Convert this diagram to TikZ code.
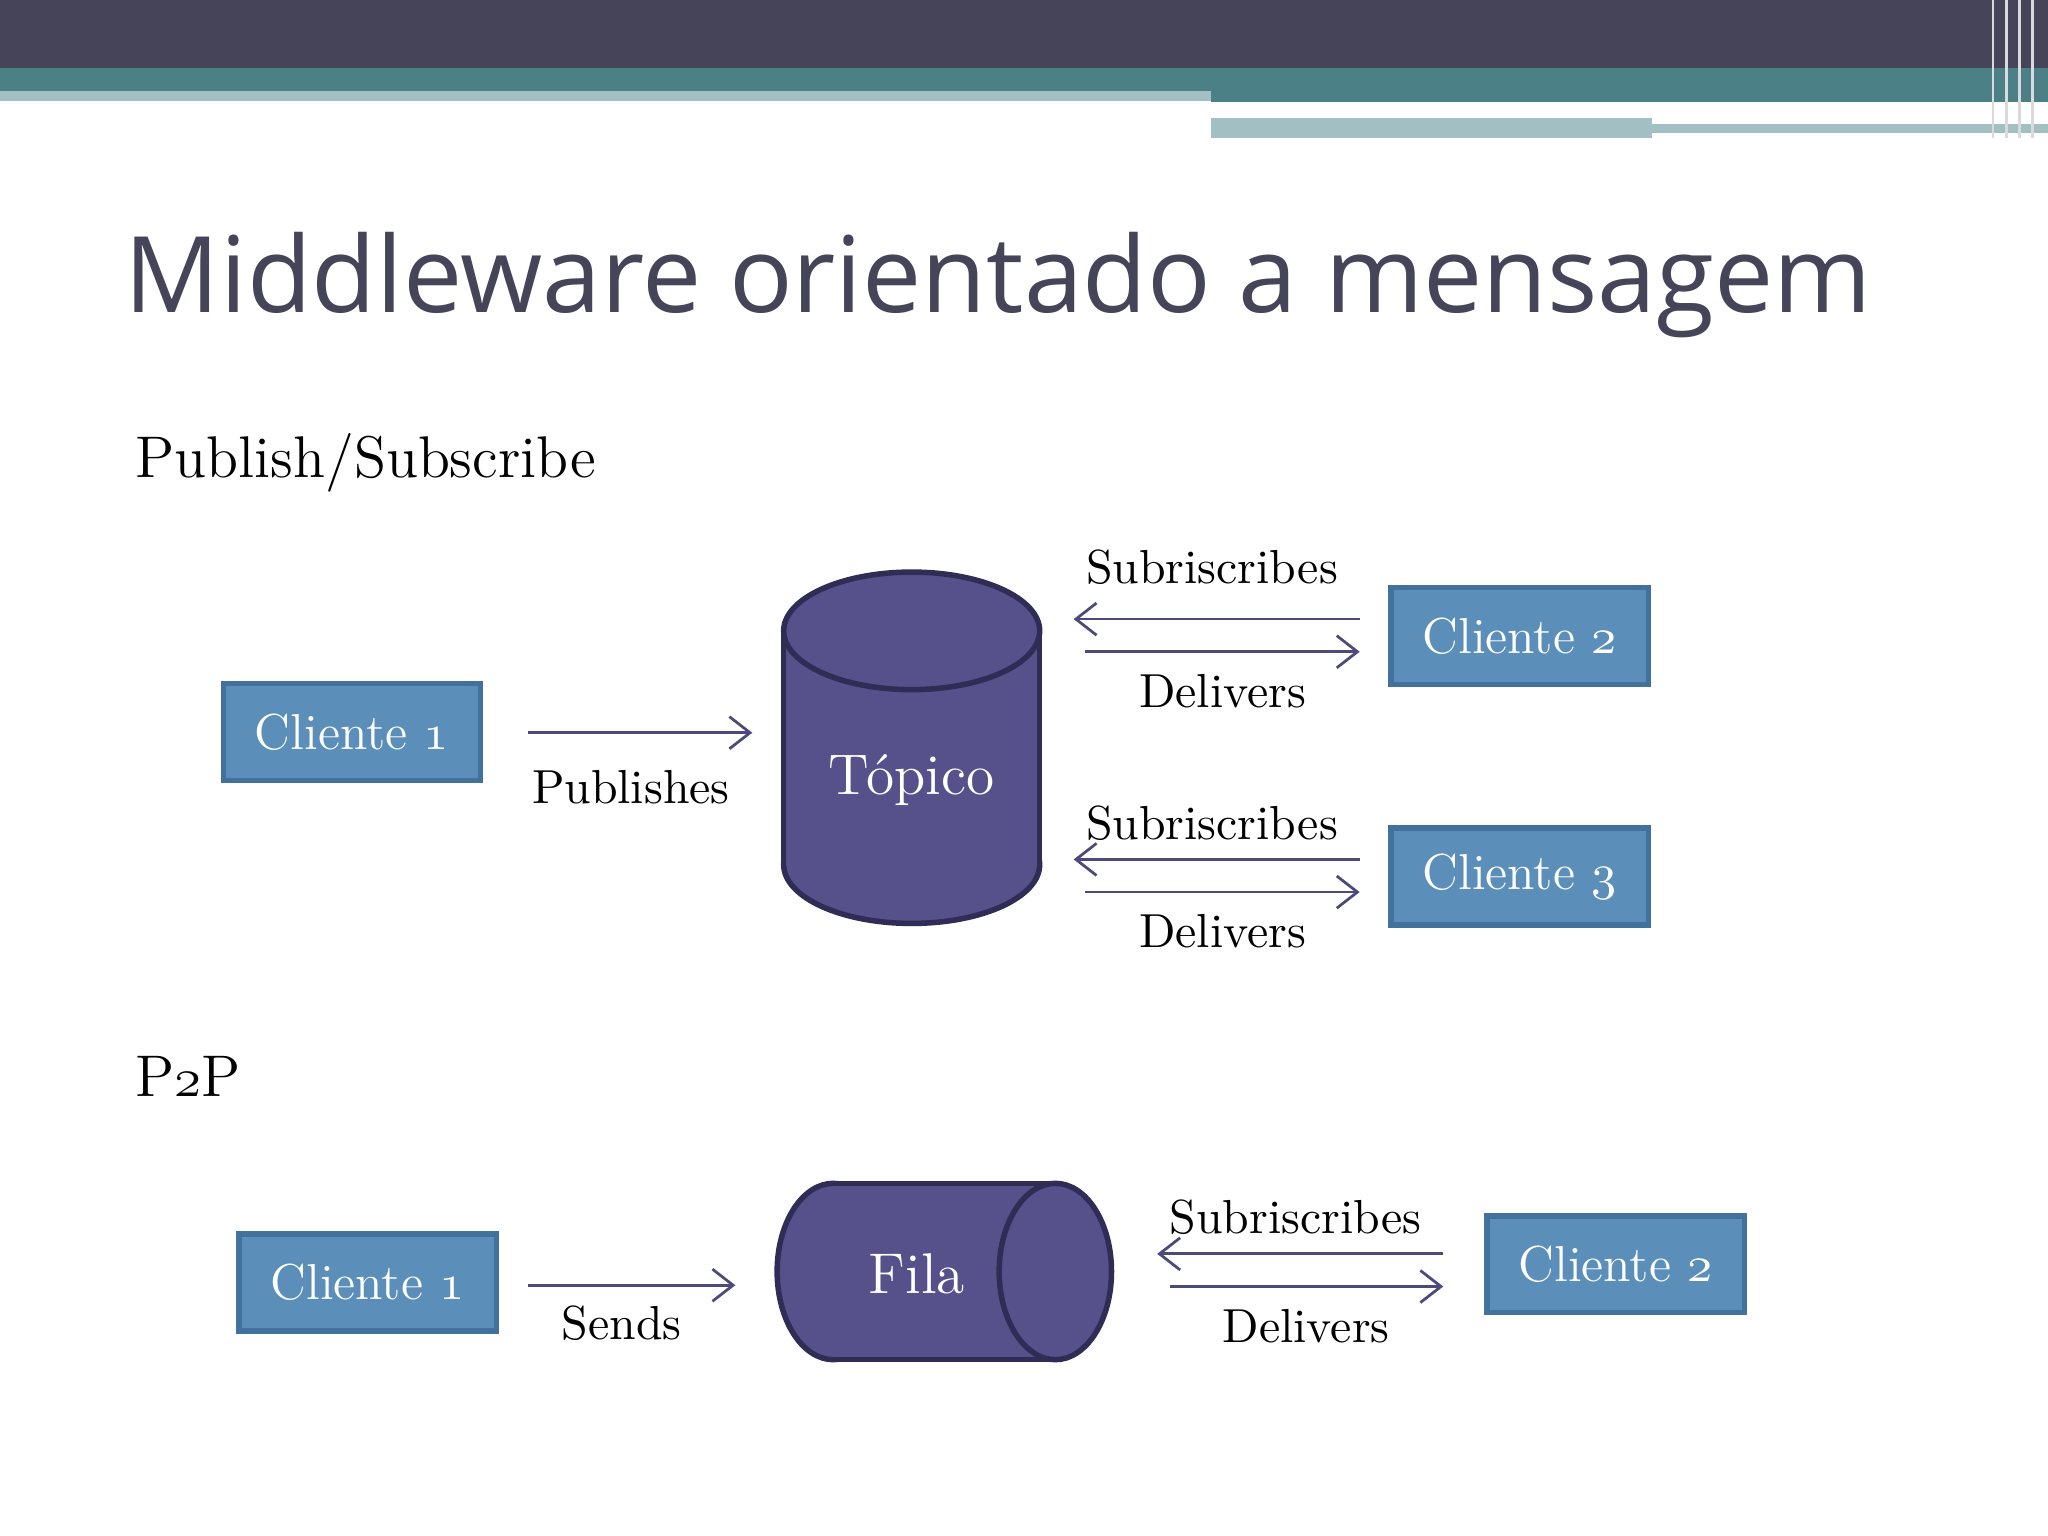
\documentclass[tikz,border=0pt]{standalone}
\usepackage{fontspec}
\newfontfamily\titlefont{Open Sans}
\usetikzlibrary{arrows.meta,shapes.geometric}
\newcommand{\osn}[1]{{\fontencoding{OML}\fontfamily{cmm}\fontseries{m}\fontshape{it}\selectfont #1}}
\definecolor{dark}{HTML}{454458}
\definecolor{teal}{HTML}{4A8086}
\definecolor{lteal}{HTML}{A2C0C4}
\definecolor{boxf}{HTML}{5B8FB9}
\definecolor{boxd}{HTML}{41719C}
\definecolor{cylf}{HTML}{56518A}
\definecolor{cyld}{HTML}{2F2D55}
\definecolor{arr}{HTML}{4B4A7A}
\tikzset{x=0.01cm,y=-0.01cm,
 cbox/.style={draw=boxd,line width=1.2pt,fill=boxf,text=white,minimum width=1.97cm,minimum height=0.74cm,font=\fontsize{11}{14}\selectfont},
 lbl/.style={font=\fontsize{10.4}{13}\selectfont},
 cyl/.style={fill=cylf,draw=cyld,line width=1.2pt},
 conn/.style={draw=arr,line width=0.6pt,-{Straight Barb[length=4.5pt,width=7pt]}}}
\begin{document}
\begin{tikzpicture}
\useasboundingbox (0,0) rectangle (1568,1176);
\fill[white] (0,0) rectangle (1568,1176);
\fill[dark] (0,0) rectangle (1568,52);
\fill[teal] (0,52) rectangle (1568,70);
\fill[lteal] (0,70) rectangle (927,77);
\fill[teal] (927,70) rectangle (1568,78);
\fill[lteal] (927,90) rectangle (1265,106);
\fill[lteal] (1265,95) rectangle (1568,102);
\fill[white] (927,86) rectangle (1452,89);
\foreach \x in {1525,1535,1545,1555} \fill[white!80!dark] (\x,0) rectangle (\x+2,106);
\node[anchor=west,text=dark,font=\titlefont\fontsize{23}{28}\selectfont,inner sep=0pt] (title) at (95,218) {Middleware orientado a mensagem};
\node[anchor=west,font=\fontsize{12.8}{15}\selectfont,inner sep=0pt] (h1) at (103,354) {Publish/Subscribe};
\node[anchor=west,font=\fontsize{12.8}{15}\selectfont,inner sep=0pt] (h2) at (103,824) {P\osn{2}P};
% pub/sub
\node[cbox] (c1) at (269.5,560.5) {Cliente \osn{1}};
\node[cbox] (c2) at (1163.5,487) {Cliente \osn{2}};
\node[cbox] (c3) at (1163.5,671) {Cliente \osn{3}};
\draw[cyl] (698,662) ellipse[x radius=98,y radius=45];
\fill[cylf] (600,483) rectangle (796,662);
\draw[draw=cyld,line width=1.2pt] (600,483) -- (600,662) (796,483) -- (796,662);
\draw[cyl] (698,483) ellipse[x radius=98,y radius=45];
\node[text=white,font=\fontsize{12.5}{15}\selectfont] (top) at (698,597) {Tópico};
\coordinate (p1) at (404,561); \coordinate (p2) at (576,561);
\draw[conn] (p1) -- (p2);
\node[lbl] (pl) at (483,603) {Publishes};
\coordinate (a1) at (1041,474); \coordinate (a2) at (822,474);
\coordinate (b1) at (831,499); \coordinate (b2) at (1041,499);
\draw[conn] (a1) -- (a2); \draw[conn] (b1) -- (b2);
\node[lbl] (s1) at (928,434) {Subriscribes};
\node[lbl] (d1) at (936,529) {Delivers};
\coordinate (e1) at (1041,658); \coordinate (e2) at (822,658);
\coordinate (f1) at (831,683); \coordinate (f2) at (1041,683);
\draw[conn] (e1) -- (e2); \draw[conn] (f1) -- (f2);
\node[lbl] (s2) at (928,630) {Subriscribes};
\node[lbl] (d2) at (936,713) {Delivers};
% P2P
\node[cbox] (q1) at (281.5,982) {Cliente \osn{1}};
\node[cbox] (q2) at (1237,968) {Cliente \osn{2}};
\draw[cyl] (638,973.5) ellipse[x radius=43,y radius=67.5];
\fill[cylf] (638,906) rectangle (808,1041);
\draw[draw=cyld,line width=1.2pt] (638,906) -- (808,906) (638,1041) -- (808,1041);
\draw[cyl] (808,973.5) ellipse[x radius=43,y radius=67.5];
\node[text=white,font=\fontsize{12.5}{15}\selectfont] (fila) at (702,975) {Fila};
\coordinate (g1) at (404,984); \coordinate (g2) at (563,984);
\draw[conn] (g1) -- (g2);
\node[lbl] (sl) at (476,1013) {Sends};
\coordinate (h1a) at (1105,960); \coordinate (h1b) at (886,960);
\coordinate (h2a) at (896,985); \coordinate (h2b) at (1105,985);
\draw[conn] (h1a) -- (h1b); \draw[conn] (h2a) -- (h2b);
\node[lbl] (s3) at (992,932) {Subriscribes};
\node[lbl] (d3) at (1000,1015) {Delivers};
\end{tikzpicture}
\end{document}
